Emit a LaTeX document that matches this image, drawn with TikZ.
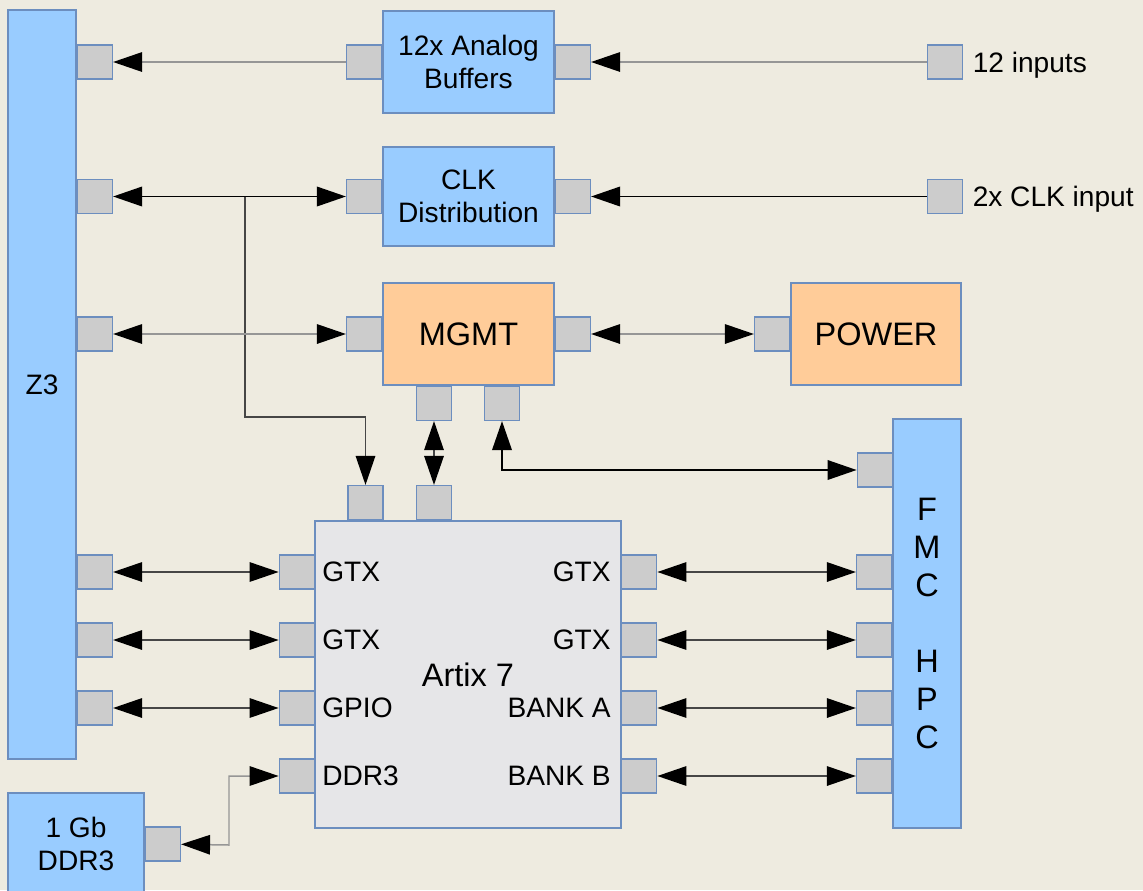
\documentclass[tikz,border=0pt]{standalone}
\usepackage{fontspec}
\setmainfont{Liberation Sans}
\usepackage{xcolor}
\definecolor{bgbeige}{RGB}{238,235,224}
\definecolor{blkblue}{RGB}{153,204,255}
\definecolor{blkedge}{RGB}{108,142,191}
\definecolor{mgmtorange}{RGB}{255,204,153}
\definecolor{portgray}{RGB}{204,204,204}
\definecolor{fpgagray}{RGB}{230,230,232}
\definecolor{wirelight}{RGB}{150,150,150}
\definecolor{wiredark}{RGB}{70,70,70}
\usepackage{tikz}
\usetikzlibrary{
  arrows.meta,
  positioning,
  calc
}
\newcommand{\normtxt}{\fontsize{16}{18.5}\selectfont}
\newcommand{\bigtxt}{\fontsize{18.5}{21.6}\selectfont}
\tikzset{
  blkbox/.style={draw=blkedge, fill=blkblue, line width=0.8pt,
    inner sep=0pt, align=center, font=\normtxt},
  mgmtbox/.style={draw=blkedge, fill=mgmtorange, line width=0.8pt,
    inner sep=0pt, align=center, font=\bigtxt},
  fpgabox/.style={draw=blkedge, fill=fpgagray, line width=0.8pt,
    inner sep=0pt, align=center, font=\bigtxt},
  portbox/.style={draw=blkedge, fill=portgray, line width=0.8pt,
    minimum width=0.7cm, minimum height=0.68cm, inner sep=0pt},
  pinlbl/.style={inner sep=0pt, text depth=0pt, font=\normtxt},
  lwire/.style={draw=wirelight, line width=0.85pt},
  dwire/.style={draw=wiredark, line width=0.85pt},
  kwire/.style={draw=black, line width=1.1pt},
  arr/.style={-{Triangle[length=5.8mm, width=3.9mm, color=black]}},
  biarr/.style={{Triangle[length=5.8mm, width=3.9mm, color=black]}-{Triangle[length=5.8mm, width=3.9mm, color=black]}},
}

\begin{document}
\begin{tikzpicture}[x=0.02cm, y=-0.02cm]
  \useasboundingbox (0,0) rectangle (1143,890);
  \fill[bgbeige] (0,0) rectangle (1143,890);

  % Carrier and FMC bars
  \node[blkbox, minimum width=1.36cm, minimum height=14.98cm] (z3) at (42,384.5) {Z3};
  \node[blkbox, font=\bigtxt, minimum width=1.36cm, minimum height=8.18cm] (fmc) at (927,623.5)
    {F\\M\\C\\\mbox{}\\H\\P\\C};

  % Blocks
  \node[blkbox, minimum width=3.42cm, minimum height=2.04cm] (buf) at (468.5,62) {12x Analog\\Buffers};
  \node[blkbox, minimum width=3.42cm, minimum height=1.98cm] (clk) at (468.5,196.5) {CLK\\Distribution};
  \node[mgmtbox, minimum width=3.42cm, minimum height=2.04cm] (mgmt) at (468.5,334) {MGMT};
  \node[mgmtbox, minimum width=3.4cm, minimum height=2.04cm] (pwr) at (876,334) {POWER};
  \node[fpgabox, minimum width=6.12cm, minimum height=6.14cm] (fpga) at (468,674.5) {Artix 7};
  \node[blkbox, minimum width=2.72cm, minimum height=2.04cm] (ddr) at (76,844) {1 Gb\\DDR3};

  % Ports on the blocks
  \node[portbox, left=0pt of buf] (bufL) {};
  \node[portbox, right=0pt of buf] (bufR) {};
  \node[portbox, left=0pt of clk] (clkL) {};
  \node[portbox, right=0pt of clk] (clkR) {};
  \node[portbox, left=0pt of mgmt] (mgL) {};
  \node[portbox, right=0pt of mgmt] (mgR) {};
  \node[portbox, left=0pt of pwr] (pwrL) {};
  \node[portbox, anchor=north] (mgB1) at ($(mgmt.south)+(-34.5,0)$) {};
  \node[portbox, anchor=north] (mgB2) at ($(mgmt.south)+(33.5,0)$) {};
  \node[portbox, anchor=south] (axT1) at ($(fpga.north)+(-102.5,0)$) {};
  \node[portbox, anchor=south] (axT2) at ($(fpga.north)+(-34,0)$) {};
  \node[portbox, right=0pt of ddr] (ddrP) {};

  % Artix IO ports
  \node[portbox, anchor=east] (axL1) at (315,572) {};
  \node[portbox, anchor=east] (axL2) at (315,640) {};
  \node[portbox, anchor=east] (axL3) at (315,708) {};
  \node[portbox, anchor=east] (axL4) at (315,776) {};
  \node[portbox, anchor=west] (axR1) at (621,572) {};
  \node[portbox, anchor=west] (axR2) at (621,640) {};
  \node[portbox, anchor=west] (axR3) at (621,708) {};
  \node[portbox, anchor=west] (axR4) at (621,776) {};
  \node[pinlbl, right=0.14cm of axL1] {GTX};
  \node[pinlbl, right=0.14cm of axL2] {GTX};
  \node[pinlbl, right=0.14cm of axL3] {GPIO};
  \node[pinlbl, right=0.14cm of axL4] {DDR3};
  \node[pinlbl, left=0.2cm of axR1] {GTX};
  \node[pinlbl, left=0.2cm of axR2] {GTX};
  \node[pinlbl, left=0.2cm of axR3] {BANK A};
  \node[pinlbl, left=0.2cm of axR4] {BANK B};

  % Ports on the bars
  \node[portbox, anchor=west] (z3a) at (z3.east |- bufL) {};
  \node[portbox, anchor=west] (z3b) at (z3.east |- clkL) {};
  \node[portbox, anchor=west] (z3c) at (z3.east |- mgL) {};
  \node[portbox, anchor=west] (z3d) at (z3.east |- axL1) {};
  \node[portbox, anchor=west] (z3e) at (z3.east |- axL2) {};
  \node[portbox, anchor=west] (z3f) at (z3.east |- axL3) {};
  \node[portbox, anchor=east] (fmcA) at (893,470) {};
  \node[portbox, anchor=east] (fmcB) at (fmc.west |- axR1) {};
  \node[portbox, anchor=east] (fmcC) at (fmc.west |- axR2) {};
  \node[portbox, anchor=east] (fmcD) at (fmc.west |- axR3) {};
  \node[portbox, anchor=east] (fmcE) at (fmc.west |- axR4) {};

  % External inputs
  \node[portbox, anchor=west] (inA) at (927,62) {};
  \node[portbox, anchor=west] (inB) at (927,196.5) {};
  \node[pinlbl, right=0.18cm of inA] {12 inputs};
  \node[pinlbl, right=0.18cm of inB] {2x CLK input};

  % Analog and clock paths
  \draw[lwire, arr] (bufL) -- (z3a);
  \draw[lwire, arr] (inA) -- (bufR);
  \draw[kwire, biarr] (z3b) -- (clkL);
  \draw[kwire, arr] (inB) -- (clkR);
  \coordinate (tap) at (245,196.5);
  \coordinate (bend) at (245,417);
  \draw[dwire, arr] (tap) -- (bend) -| (axT1);

  % Management
  \draw[lwire, biarr] (z3c) -- (mgL);
  \draw[lwire, biarr] (mgR) -- (pwrL);
  \draw[dwire, biarr] (mgB1) -- (axT2);
  \draw[kwire, biarr] (mgB2) |- (fmcA);

  % FPGA links
  \draw[dwire, biarr] (z3d) -- (axL1);
  \draw[dwire, biarr] (z3e) -- (axL2);
  \draw[dwire, biarr] (z3f) -- (axL3);
  \draw[dwire, biarr] (axR1) -- (fmcB);
  \draw[dwire, biarr] (axR2) -- (fmcC);
  \draw[dwire, biarr] (axR3) -- (fmcD);
  \draw[dwire, biarr] (axR4) -- (fmcE);
  \coordinate (ddrbend) at (229,845);
  \draw[lwire, biarr] (ddrP) -- (ddrbend) |- (axL4);
\end{tikzpicture}
\end{document}
